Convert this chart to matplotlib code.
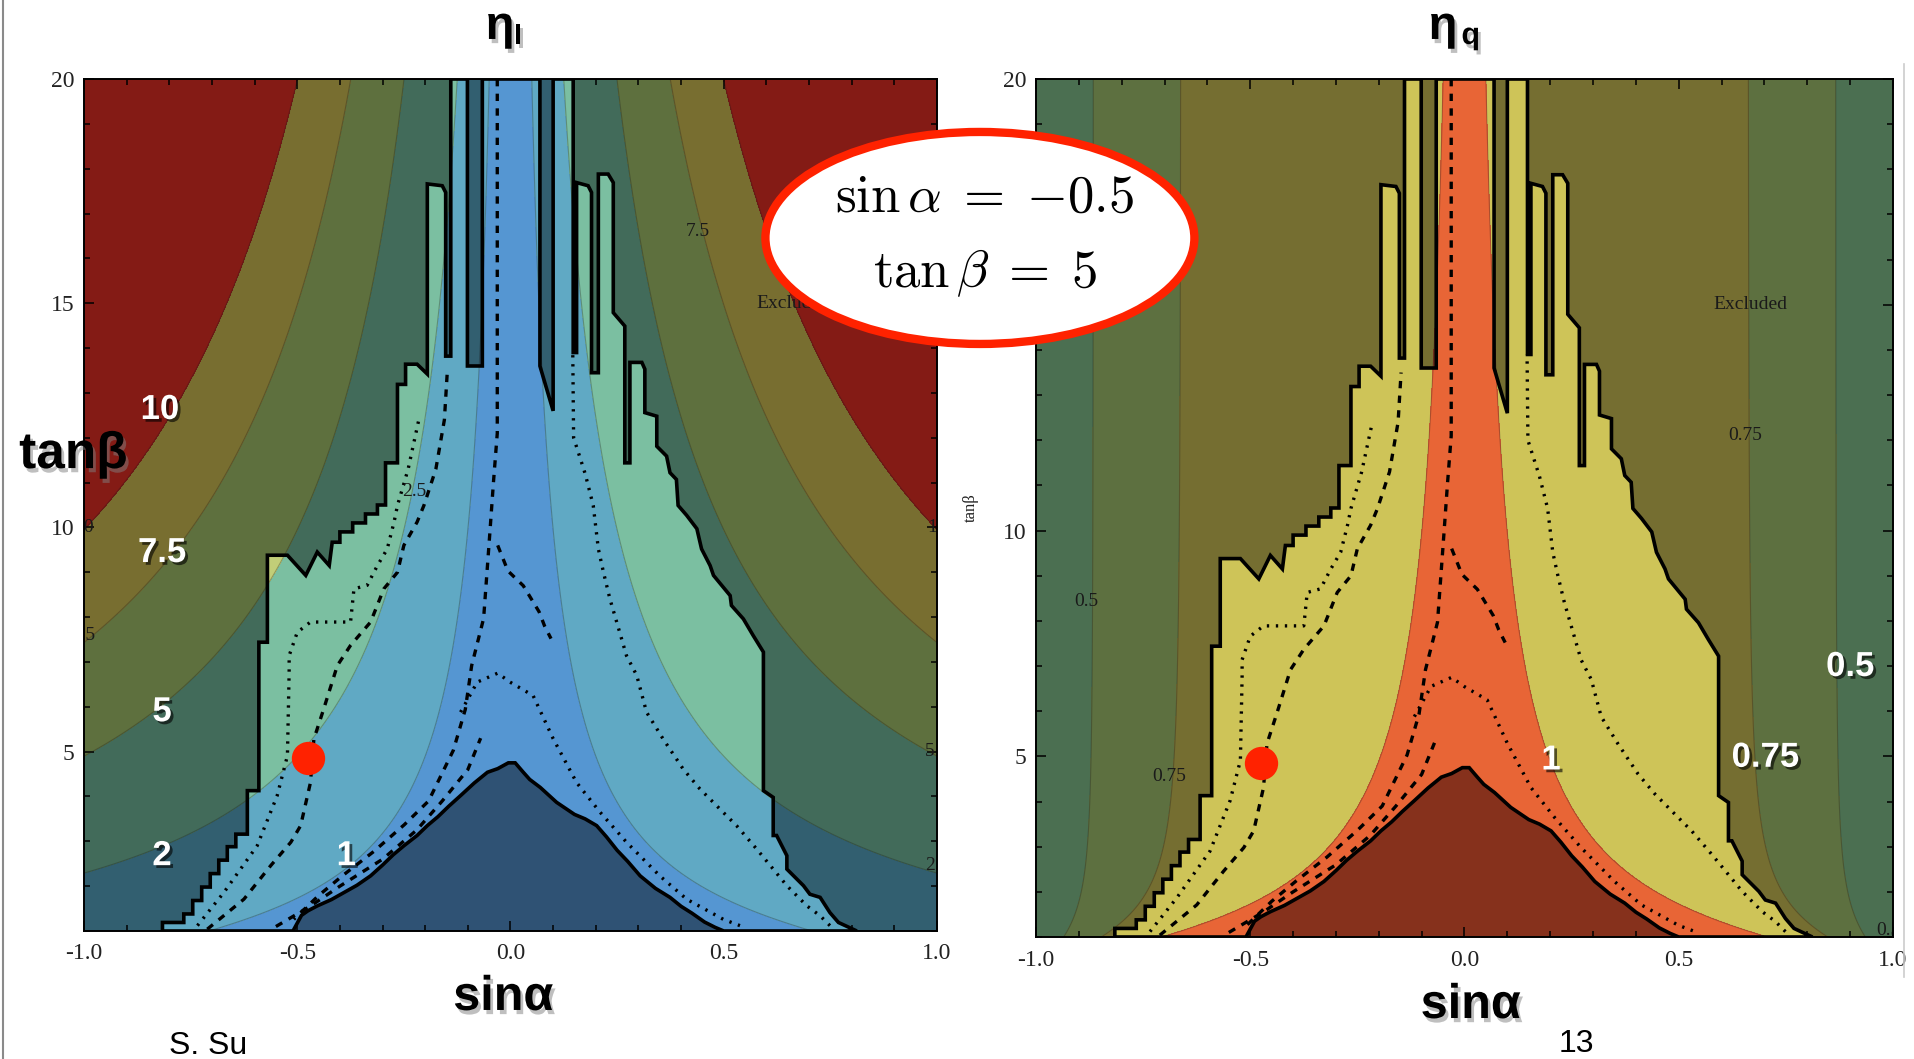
import numpy as np
import matplotlib
matplotlib.use("Agg")
import matplotlib.pyplot as plt
from matplotlib.patches import Polygon, Ellipse
from matplotlib.lines import Line2D
from matplotlib.ticker import MultipleLocator
import matplotlib.patheffects as pe

plt.rcParams['axes.unicode_minus'] = False
plt.rcParams['mathtext.fontset'] = 'cm'

# ---- data ----
sina_lim = [-1.0, 1.0]
tanb_lim = [1.0, 20.0]

# eta_l bands (|sin a / cos b|)
eta_l_levels = [-1, 1, 2.5, 5, 7.5, 10, 1000]
eta_l_dark = ["#2f5274", "#325f70", "#426b5a", "#5e703e", "#786e30", "#841b15"]
eta_l_bright = ["#5596d2", "#60a9c4", "#7bbfa1", "#c2ce78", "#e0d060", "#c04030"]

# eta_q bands (cos a / sin b)
eta_q_levels = [-1, 0.5, 0.75, 1, 100]
eta_q_dark = ["#4b6f51", "#5d7040", "#756e31", "#86311c"]
eta_q_bright = ["#7fb48a", "#a6c77a", "#cec458", "#e86536"]

# allowed region (black outline), traced: left side, top spikes, right side,
# then the excluded triangle at the bottom
allowed_sina = [-0.816, -0.816, -0.766, -0.766, -0.745, -0.745, -0.724, -0.724, -0.704, -0.704,
                -0.684, -0.684, -0.664, -0.664, -0.644, -0.644, -0.617, -0.617, -0.590, -0.590,
                -0.570, -0.570, -0.523, -0.480, -0.453, -0.425, -0.418, -0.400, -0.400, -0.370,
                -0.370, -0.340, -0.340, -0.312, -0.312, -0.293, -0.293, -0.265, -0.265, -0.246,
                -0.246, -0.219, -0.195, -0.195, -0.160, -0.152, -0.152, -0.140, -0.140, -0.101,
                -0.101, -0.066, -0.066, 0.069, 0.069, 0.100, 0.100, 0.147, 0.147, 0.155,
                0.155, 0.182, 0.190, 0.190, 0.206, 0.206, 0.229, 0.241, 0.241, 0.268,
                0.268, 0.280, 0.280, 0.308, 0.315, 0.315, 0.343, 0.343, 0.366, 0.374,
                0.389, 0.393, 0.413, 0.437, 0.448, 0.468, 0.476, 0.515, 0.518, 0.546,
                0.569, 0.593, 0.593, 0.616, 0.616, 0.624, 0.648, 0.648, 0.687, 0.702,
                0.726, 0.749, 0.769, 0.812,
                0.500, 0.480, 0.455, 0.425, 0.400, 0.374, 0.340, 0.304, 0.275, 0.250,
                0.225, 0.202, 0.175, 0.150, 0.108, 0.070, 0.045, 0.030, 0.011,
                -0.005, -0.030, -0.054, -0.085, -0.117, -0.145, -0.170, -0.195, -0.219, -0.250,
                -0.275, -0.300, -0.328, -0.360, -0.390, -0.420, -0.453, -0.475, -0.490, -0.510]
allowed_tanb = [1.00, 1.19, 1.19, 1.38, 1.38, 1.68, 1.68, 1.98, 1.98, 2.28,
                2.28, 2.58, 2.58, 2.88, 2.88, 3.16, 3.16, 4.13, 4.13, 7.44,
                7.44, 9.38, 9.38, 8.93, 9.45, 9.15, 9.67, 9.67, 9.90, 9.90,
                10.10, 10.10, 10.30, 10.30, 10.50, 10.50, 11.44, 11.44, 13.19, 13.19,
                13.64, 13.64, 13.42, 17.66, 17.62, 17.47, 13.82, 13.82, 20.00, 20.00,
                13.60, 13.60, 20.00, 20.00, 13.60, 12.60, 20.00, 20.00, 13.90, 13.90,
                17.69, 17.62, 17.47, 13.45, 13.45, 17.88, 17.88, 17.69, 14.79, 14.49,
                11.44, 11.44, 13.68, 13.68, 13.53, 12.56, 12.48, 11.81, 11.59, 11.22,
                11.07, 10.49, 10.27, 9.97, 9.52, 9.15, 8.93, 8.48, 8.26, 7.96,
                7.59, 7.22, 4.13, 3.98, 3.13, 3.13, 2.68, 2.38, 2.01, 1.82,
                1.75, 1.41, 1.19, 1.00,
                1.00, 1.08, 1.20, 1.40, 1.55, 1.75, 1.95, 2.23, 2.55, 2.80,
                3.10, 3.35, 3.50, 3.60, 3.87, 4.20, 4.38, 4.54, 4.75,
                4.75, 4.62, 4.54, 4.30, 4.02, 3.78, 3.55, 3.35, 3.13, 2.90,
                2.70, 2.47, 2.23, 2.02, 1.86, 1.70, 1.56, 1.45, 1.35, 1.00]

# dotted / dashed constraint curves
dot_left_sina = [-0.734, -0.672, -0.594, -0.547, -0.523, -0.519, -0.519, -0.500, -0.469, -0.375,
                 -0.367, -0.336, -0.312, -0.289, -0.273, -0.265, -0.240, -0.215]
dot_left_tanb = [1.12, 1.86, 2.90, 4.02, 4.91, 6.77, 7.14, 7.66, 7.89, 7.89,
                 8.63, 8.71, 9.15, 9.52, 10.12, 10.49, 11.30, 12.40]
dash_left_sina = [-0.711, -0.625, -0.562, -0.515, -0.492, -0.469, -0.461, -0.438, -0.406, -0.375,
                  -0.328, -0.297, -0.265, -0.250, -0.219, -0.203, -0.175, -0.155, -0.148]
dash_left_tanb = [1.04, 1.71, 2.46, 2.98, 3.35, 4.31, 5.28, 5.95, 6.92, 7.37,
                  7.89, 8.63, 9.00, 9.60, 10.12, 10.49, 11.30, 12.40, 13.50]
dot_right_sina = [0.749, 0.726, 0.695, 0.648, 0.616, 0.577, 0.530, 0.491, 0.444, 0.405,
                  0.358, 0.319, 0.296, 0.272, 0.249, 0.233, 0.218, 0.206, 0.194, 0.175,
                  0.148, 0.146]
dot_right_tanb = [1.12, 1.34, 1.56, 2.01, 2.38, 2.83, 3.35, 3.72, 4.17, 4.61,
                  5.28, 5.88, 6.70, 7.14, 7.89, 8.41, 9.00, 9.52, 10.49, 11.20,
                  12.00, 13.90]
dot_arc_sina = [-0.117, -0.078, -0.030, -0.001, 0.053, 0.100, 0.155, 0.210, 0.272, 0.350,
                0.413, 0.499, 0.538]
dot_arc_tanb = [5.88, 6.55, 6.75, 6.55, 6.25, 5.29, 4.31, 3.65, 2.98, 2.23,
                1.71, 1.26, 1.12]
dash_inner_sina = [-0.031, -0.031, -0.040, -0.048, -0.063, -0.091, -0.106, -0.134, -0.192, -0.249,
                   -0.321, -0.393, -0.450, -0.508]
dash_inner_tanb = [20.0, 12.1, 11.0, 9.93, 7.97, 6.92, 5.94, 5.03, 3.90, 3.37,
                   2.77, 2.24, 1.79, 1.26]
dash_tri_sina = [-0.55, -0.47, -0.40, -0.30, -0.22, -0.16, -0.10, -0.07]
dash_tri_tanb = [1.10, 1.55, 2.00, 2.60, 3.25, 3.90, 4.60, 5.30]
dash_loop_sina = [-0.030, -0.006, 0.030, 0.067, 0.080, 0.095]
dash_loop_tanb = [9.60, 9.03, 8.70, 8.12, 7.80, 7.52]

# benchmark point marked in red
bench_sina = -0.475
bench_tanb = 4.85

# small contour labels inside panels
left_small_labels = [("7.5", 0.44, 16.6, 'center'), ("Excluded", 0.577, 15.0, 'left'),
                     ("2.5", -0.225, 10.8, 'center'), ("10", -1.0, 10.0, 'center'),
                     ("7.5", -1.0, 7.6, 'center'), ("10", 1.0, 10.0, 'center'),
                     ("5", 0.982, 5.0, 'center'), ("2.5", 1.0, 2.45, 'center')]
right_small_labels = [("Excluded", 0.582, 15.0, 'left'), ("0.75", 0.655, 12.1, 'center'),
                      ("0.5", -0.882, 8.44, 'center'), ("0.75", -0.689, 4.55, 'center'),
                      ("0.5", 0.99, 1.15, 'center')]

# big white level labels on the slide
left_big_labels = [("10", -0.822, 12.63), ("7.5", -0.817, 9.44), ("5", -0.817, 5.89),
                   ("2", -0.817, 2.68), ("1", -0.385, 2.68)]
right_big_labels = [("1", 0.202, 4.92), ("0.75", 0.702, 4.98), ("0.5", 0.900, 6.99)]

# ---- scalar fields ----
s = np.linspace(sina_lim[0], sina_lim[1], 801)
t = np.linspace(tanb_lim[0], tanb_lim[1], 761)
S, T = np.meshgrid(s, t)
eta_l = np.abs(S) * np.sqrt(1 + T ** 2)
eta_q = np.sqrt(1 - S ** 2) * np.sqrt(1 + T ** 2) / T

fig = plt.figure(figsize=(19.15, 10.59), dpi=100, facecolor='white')
ax1 = fig.add_axes([0.04386, 0.12087, 0.44543, 0.80453])
ax2 = fig.add_axes([0.54099, 0.11520, 0.44752, 0.81020])

shadow_dark = [pe.withSimplePatchShadow(offset=(2, -2), shadow_rgbFace='black', alpha=0.6)]
shadow_gray = [pe.withSimplePatchShadow(offset=(2, -3), shadow_rgbFace='gray', alpha=0.5)]


def draw_panel(ax, field, levels, dark, bright, small_labels, big_labels):
    ax.contourf(S, T, field, levels=levels, colors=dark, zorder=1)
    clip = Polygon(np.column_stack([allowed_sina, allowed_tanb]), closed=True,
                   transform=ax.transData)
    cs = ax.contourf(S, T, field, levels=levels, colors=bright, zorder=2)
    cs.set_clip_path(clip)
    ax.contour(S, T, field, levels=levels[1:-1], colors='#1a1a1a', linewidths=0.8,
               alpha=0.3, zorder=3)
    ax.add_patch(Polygon(np.column_stack([allowed_sina, allowed_tanb]), closed=True,
                         fill=False, ec='black', lw=2.6, joinstyle='miter', zorder=5))

    dotted = (0, (0.7, 2.0))
    dashed = (0, (2.2, 2.2))
    ax.plot(dot_left_sina, dot_left_tanb, color='k', lw=2.4, ls=dotted, zorder=4)
    ax.plot(dot_right_sina, dot_right_tanb, color='k', lw=2.4, ls=dotted, zorder=4)
    ax.plot(dot_arc_sina, dot_arc_tanb, color='k', lw=2.4, ls=dotted, zorder=4)
    ax.plot(dash_left_sina, dash_left_tanb, color='k', lw=2.4, ls=dashed, zorder=4)
    ax.plot(dash_inner_sina, dash_inner_tanb, color='k', lw=2.4, ls=dashed, zorder=4)
    ax.plot(dash_tri_sina, dash_tri_tanb, color='k', lw=2.4, ls=dashed, zorder=4)
    ax.plot(dash_loop_sina, dash_loop_tanb, color='k', lw=2.4, ls=dashed, zorder=4)

    for txt, x, y, ha in small_labels:
        ax.text(x, y, txt, ha=ha, va='center', fontsize=14, family='Liberation Serif',
                color='#1a1a1a', clip_on=True, zorder=6)
    for txt, x, y in big_labels:
        ax.text(x, y, txt, ha='center', va='center', fontsize=25, fontweight='bold',
                family='Liberation Sans', color='white', path_effects=shadow_dark, zorder=7)

    ax.plot(bench_sina, bench_tanb, 'o', color='#ff2200', ms=24, mec='none', zorder=8)

    ax.set_xlim(sina_lim)
    ax.set_ylim(tanb_lim)
    ax.set_xticks([-1.0, -0.5, 0.0, 0.5, 1.0])
    ax.set_xticklabels(['-1.0', '-0.5', '0.0', '0.5', '1.0'])
    ax.set_yticks([5, 10, 15, 20])
    ax.xaxis.set_minor_locator(MultipleLocator(0.1))
    ax.yaxis.set_minor_locator(MultipleLocator(1))
    ax.tick_params(which='both', direction='in', top=True, right=True, width=1.1, color='k')
    ax.tick_params(which='major', length=7, labelsize=17, labelcolor='#222222')
    ax.tick_params(which='minor', length=4)
    ax.tick_params(axis='x', pad=9)
    ax.tick_params(axis='y', pad=7)
    for lab in ax.get_xticklabels() + ax.get_yticklabels():
        lab.set_family('Liberation Serif')
    for sp in ax.spines.values():
        sp.set_linewidth(1.4)
        sp.set_zorder(9)


draw_panel(ax1, eta_l, eta_l_levels, eta_l_dark, eta_l_bright, left_small_labels, left_big_labels)
draw_panel(ax2, eta_q, eta_q_levels, eta_q_dark, eta_q_bright, right_small_labels, right_big_labels)

ax2.text(-0.076, 0.501, 'tanβ', transform=ax2.transAxes, rotation=90, ha='center', va='center',
         fontsize=12, family='Liberation Serif', color='#222222')

# slide titles and labels
fig.text(0.2611, 0.9632, 'η', fontsize=34, fontweight='bold', family='Liberation Sans',
         ha='center', va='baseline', path_effects=shadow_gray)
fig.text(0.2705, 0.9585, 'l', fontsize=20, fontweight='bold', family='Liberation Sans',
         ha='center', va='baseline', path_effects=shadow_gray)
fig.text(0.7535, 0.9632, 'η', fontsize=34, fontweight='bold', family='Liberation Sans',
         ha='center', va='baseline', path_effects=shadow_gray)
fig.text(0.7680, 0.9585, 'q', fontsize=22, fontweight='bold', family='Liberation Sans',
         ha='center', va='baseline', path_effects=shadow_gray)
fig.text(0.010, 0.558, 'tanβ', fontsize=37, fontweight='bold', family='Liberation Sans',
         ha='left', va='baseline', path_effects=shadow_gray, zorder=20)
fig.text(0.2628, 0.0463, 'sinα', fontsize=35, fontweight='bold', family='Liberation Sans',
         ha='center', va='baseline', path_effects=shadow_gray)
fig.text(0.768, 0.0387, 'sinα', fontsize=35, fontweight='bold', family='Liberation Sans',
         ha='center', va='baseline', path_effects=shadow_gray)
fig.text(0.1086, 0.005, 'S. Su', fontsize=23, family='Liberation Sans', ha='center',
         va='baseline')
fig.text(0.823, 0.0066, '13', fontsize=23, family='Liberation Sans', ha='center',
         va='baseline')

# benchmark callout
fig.add_artist(Ellipse((0.5117, 0.7753), 0.224, 0.2002, transform=fig.transFigure,
                       facecolor='white', edgecolor='#ff2200', lw=6, zorder=30))
fig.text(0.5144, 0.814, r'$\sin\alpha\;=\;{-0.5}$', fontsize=38, ha='center', va='center', zorder=31)
fig.text(0.5144, 0.742, r'$\tan\beta\;=\;5$', fontsize=38, ha='center', va='center', zorder=31)

# slide frame lines
fig.add_artist(Line2D([0.0015, 0.0015], [0, 1], color='#8a8a8a', lw=1.5))
fig.add_artist(Line2D([0.9943, 0.9943], [1 - 64 / 1059, 1 - 977 / 1059], color='#cccccc', lw=1.2))

fig.savefig('out.png', dpi=100, facecolor='white')
